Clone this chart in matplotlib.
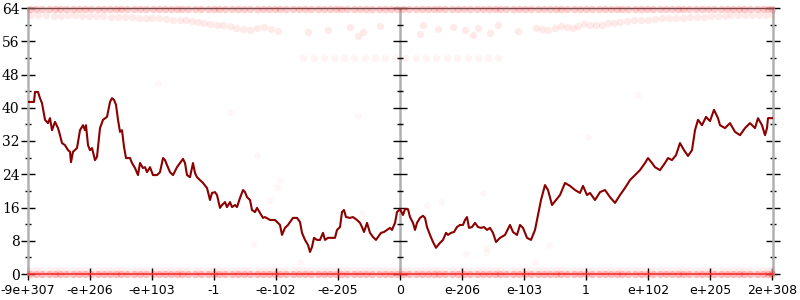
import numpy as np
import matplotlib
matplotlib.use('Agg')
import matplotlib.pyplot as plt

# bucket positions (0..745) and running value
line_x = [0, 6, 7, 10, 12, 14, 17, 20, 22, 24, 27, 30, 32, 34, 37, 40, 42, 43, 45, 49,
          52, 55, 57, 58, 60, 62, 64, 67, 69, 72, 75, 79, 82, 84, 86, 88, 90, 92, 94, 96,
          98, 102, 104, 107, 110, 112, 115, 117, 119, 122, 125, 129, 132, 135, 137, 139, 142, 145, 149, 152,
          155, 157, 159, 162, 165, 167, 169, 172, 175, 179, 182, 184, 187, 189, 192, 194, 197, 199, 202, 204,
          207, 209, 212, 215, 217, 219, 222, 224, 227, 229, 232, 235, 237, 242, 247, 252, 254, 257, 260, 262,
          265, 269, 272, 274, 277, 280, 282, 284, 286, 289, 292, 295, 297, 300, 304, 307, 309, 312, 314, 316,
          318, 322, 325, 329, 332, 334, 336, 339, 342, 345, 348, 350, 353, 356, 359, 362, 364, 367, 369, 372,
          375, 377, 380, 382, 385, 387, 389, 392, 395, 397, 399, 402, 405, 408, 412, 415, 418, 420, 423, 426,
          429, 432, 435, 437, 439, 441, 444, 447, 450, 453, 456, 459, 462, 465, 468, 472, 477, 482, 485, 489,
          492, 495, 499, 503, 507, 510, 513, 517, 520, 524, 528, 532, 537, 542, 547, 552, 555, 559, 562, 567,
          572, 577, 582, 587, 592, 597, 602, 607, 612, 617, 620, 624, 627, 632, 637, 640, 644, 648, 652, 656,
          660, 664, 667, 670, 674, 678, 682, 686, 690, 692, 697, 702, 707, 712, 717, 722, 727, 730, 734, 737,
          739, 740, 745]
line_y = [41.4, 41.4, 43.8, 43.8, 42.3, 41.1, 37.1, 36.3, 37.5, 34.6, 36.6, 35.1, 33.4, 31.5, 31.0, 29.8, 29.4, 26.9, 29.4, 30.3,
          34.6, 35.8, 34.6, 35.8, 31.0, 29.8, 30.3, 27.4, 28.2, 35.1, 37.1, 37.8, 41.4, 42.3, 41.9, 40.7, 37.1, 34.2, 34.6, 30.6,
          27.9, 27.9, 26.7, 25.5, 23.8, 26.7, 25.5, 25.7, 24.5, 25.7, 23.8, 23.8, 24.5, 27.9, 27.4, 26.2, 24.5, 23.8, 25.7, 26.7,
          27.7, 26.7, 23.8, 23.3, 26.7, 24.3, 23.3, 22.6, 21.9, 20.7, 17.8, 19.5, 19.7, 19.0, 15.9, 16.6, 17.3, 16.1, 17.3, 16.1,
          16.6, 16.1, 18.3, 20.2, 19.7, 18.5, 17.8, 15.4, 14.9, 15.9, 14.7, 13.5, 13.7, 13.0, 13.0, 11.8, 9.4, 11.1, 11.8, 12.5,
          13.5, 13.5, 12.5, 9.9, 8.2, 7.0, 5.3, 6.5, 8.7, 8.2, 8.2, 9.9, 8.2, 8.7, 8.7, 8.7, 10.6, 11.3, 14.9, 15.4,
          13.7, 13.5, 13.7, 13.0, 12.3, 11.3, 10.1, 12.3, 9.9, 8.9, 8.2, 8.9, 9.9, 10.1, 10.6, 11.1, 10.6, 12.3, 14.9, 15.6,
          14.2, 15.6, 15.6, 13.7, 12.3, 10.6, 12.3, 13.5, 14.0, 13.5, 11.3, 9.4, 7.7, 6.3, 7.5, 8.2, 9.9, 9.4, 9.9, 10.1,
          11.3, 11.8, 11.8, 13.0, 13.7, 11.1, 11.3, 12.3, 11.3, 11.1, 11.3, 10.6, 11.1, 9.9, 7.7, 8.7, 9.4, 11.8, 10.1, 9.4,
          11.8, 11.1, 8.7, 8.2, 10.6, 14.2, 17.8, 21.4, 20.2, 16.6, 17.8, 19.0, 21.9, 21.2, 20.2, 19.5, 21.2, 19.0, 19.5, 17.8,
          19.7, 20.2, 18.5, 17.1, 19.0, 20.7, 22.6, 23.8, 25.0, 26.7, 27.9, 26.7, 25.7, 25.0, 26.7, 27.9, 27.4, 28.6, 31.5, 29.8,
          28.4, 29.8, 34.6, 37.1, 35.8, 37.8, 36.8, 39.5, 37.5, 35.8, 35.1, 36.3, 34.2, 33.4, 35.1, 36.3, 35.1, 37.5, 35.8, 33.4,
          35.1, 37.5, 37.5]

tick_pos = [0, 62, 124, 186, 248, 310, 372, 434, 496, 558, 620, 682, 744]
tick_labels = ['-9e+307', '-e+206', '-e+103', '-1', '-e-102', '-e-205', '0',
               'e-206', 'e-103', '1', 'e+102', 'e+205', '2e+308']
y_major = [0, 8, 16, 24, 32, 40, 48, 56, 64]
y_minor = [4, 12, 20, 28, 36, 44, 52, 60]

# faint sample points
edge_x = [2, 8, 14, 21, 27, 32, 38, 45, 51, 57, 63, 70, 76, 82, 88, 93, 99, 106, 112, 118,
          125, 131, 137, 143, 149, 154, 160, 167, 173, 180, 186, 191, 197, 204, 210, 216, 222, 229, 235, 241,
          247, 252, 258, 265, 271, 277, 283, 290, 296, 302, 308, 313, 319, 326, 332, 338, 344, 351, 357, 363,
          369, 375, 381, 388, 394, 400, 406, 411, 417, 424, 430, 436, 442, 449, 455, 461, 467, 472, 478, 485,
          491, 497, 503, 510, 516, 522, 528, 533, 539, 546, 552, 558, 564, 571, 577, 583, 589, 594, 600, 607,
          613, 619, 625, 632, 638, 644, 650, 655, 661, 668, 674, 680, 686, 693, 699, 705, 711, 716, 722, 729,
          735, 740, 744]
band_x = [3, 10, 18, 26, 33, 40, 47, 54, 61, 68, 75, 83, 90, 97, 104, 111, 118, 124, 131, 138,
          145, 152, 158, 164, 170, 176, 182, 189, 195, 202, 208, 215, 222, 229, 236, 243, 250,
          745, 738, 731, 724, 717, 710, 703, 697, 690, 683, 676, 669, 662, 655, 648, 641, 634, 627,
          620, 613, 606, 599, 592, 586, 580, 574, 568, 562, 556, 550, 545, 539, 533, 527, 520, 514, 508,
          322, 335, 352, 395, 410, 425, 437, 450, 462, 392, 445, 330, 470, 300, 280, 490]
band_y = [62.2, 62.3, 62.3, 62.1, 62.1, 62.2, 62.2, 62.0, 62.0, 62.1, 62.1, 61.9, 61.9, 61.8, 61.8, 61.7, 61.7, 61.6, 61.5, 61.4,
          61.2, 61.1, 61.0, 60.8, 60.6, 60.4, 60.2, 60.0, 59.8, 59.6, 59.3, 59.0, 58.8, 59.1, 59.5, 59.0, 58.5,
          62.4, 62.4, 62.3, 62.3, 62.2, 62.2, 62.2, 62.1, 62.0, 62.0, 61.9, 61.8, 61.8, 61.7, 61.7, 61.6, 61.5, 61.3,
          61.2, 61.1, 61.0, 60.8, 60.6, 60.4, 60.3, 60.0, 59.8, 60.0, 60.2, 59.6, 59.2, 59.4, 59.6, 59.2, 58.8, 59.0, 59.3,
          59.4, 58.3, 59.6, 59.8, 58.9, 59.5, 58.6, 59.2, 58.0, 57.8, 57.5, 57.2, 59.9, 58.8, 58.2, 58.4]
row_x = [275, 286, 296, 306, 316, 326, 337, 347, 357, 367, 377, 388, 398, 408, 419, 429, 440, 450, 460, 470]
row_y = [52.0] * len(row_x)
stray_x = [225, 272, 438, 458, 507, 521, 202, 229, 252, 249, 242, 334, 399, 413, 455, 459, 130, 560, 610, 330]
stray_y = [7.2, 2.9, 4.8, 5.3, 2.9, 7.0, 39.0, 28.6, 22.6, 21.0, 17.8, 14.7, 16.6, 17.3, 19.5, 6.3, 46.0, 33.0, 43.0, 38.0]

fig = plt.figure(figsize=(8, 3), dpi=100)
ax = fig.add_axes([28 / 800, 26 / 300, 745 / 800, 266 / 300])

red = '#ff2020'
ax.scatter(edge_x, [0] * len(edge_x), s=28, color=red, alpha=0.3, lw=0, clip_on=False, zorder=3)
ax.scatter(edge_x, [0.9] * len(edge_x), s=28, color=red, alpha=0.06, lw=0, clip_on=False, zorder=3)
ax.scatter(edge_x, [63.7] * len(edge_x), s=28, color=red, alpha=0.22, lw=0, clip_on=False, zorder=3)
ax.scatter(band_x, band_y, s=28, color=red, alpha=0.09, lw=0, zorder=3)
ax.scatter(row_x, row_y, s=28, color=red, alpha=0.05, lw=0, zorder=3)
ax.scatter(stray_x, stray_y, s=25, color=red, alpha=0.035, lw=0, zorder=3)

ax.plot(line_x, line_y, color='#8b0000', lw=1.5, zorder=4)

# vertical axis through zero
ax.axvline(tick_pos[6], color='#b0b0b0', lw=1.8, zorder=2)
ax.plot([tick_pos[6]] * len(y_major), y_major, ls='none', marker='_', ms=10, mew=1, color='k', zorder=2, clip_on=False)
ax.plot([tick_pos[6]] * len(y_minor), y_minor, ls='none', marker='_', ms=5, mew=1, color='k', zorder=2)

ax.set_xlim(0, 745)
ax.set_ylim(0, 64)
ax.set_xticks(tick_pos)
ax.set_xticklabels(tick_labels, fontsize=9, family='DejaVu Sans')
ax.set_yticks(y_major)
ax.set_yticks(y_minor, minor=True)
ax.set_yticklabels([str(v) for v in y_major], fontsize=10, family='DejaVu Serif')

ax.tick_params(axis='x', direction='inout', length=8, width=1, pad=3, colors='k')
ax.tick_params(axis='y', which='major', direction='inout', length=10, width=1, pad=1, right=True)
ax.tick_params(axis='y', which='minor', direction='inout', length=5, width=1, right=True)

for side in ['left', 'right']:
    ax.spines[side].set_color('#b0b0b0')
    ax.spines[side].set_linewidth(1.8)
ax.spines['top'].set_color('#555555')
ax.spines['top'].set_linewidth(1)
ax.spines['bottom'].set_color('#f04040')
ax.spines['bottom'].set_linewidth(1.2)

fig.savefig('out.png', dpi=100)
